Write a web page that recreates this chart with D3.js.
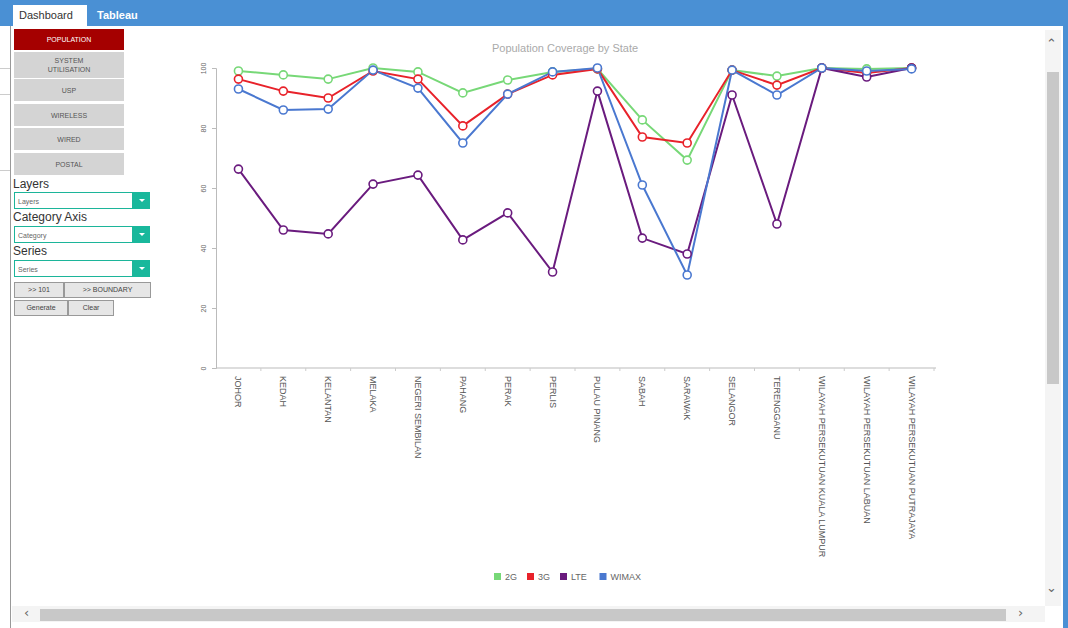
<!DOCTYPE html>
<html>
<head>
<meta charset="utf-8">
<script src="https://d3js.org/d3.v7.min.js"></script>
<style>
  body { margin: 0; width: 1068px; height: 628px; overflow: hidden; background: #fff; font-family: Arial, "Liberation Sans", sans-serif; position: relative; }
  .topbar { position: absolute; left: 0; top: 0; width: 1068px; height: 26px; background: #4a90d4; }
  .tab { position: absolute; top: 5px; height: 21px; font-size: 11px; line-height: 21px; padding: 0 6px; }
  .tab.active { left: 13px; background: #fff; color: #333; width: 62px; }
  .tab.other { left: 91px; color: #fff; font-weight: bold; }
  .frame { position: absolute; left: 10px; top: 26px; width: 1px; height: 602px; background: #999; }
  .stub { position: absolute; left: 0; width: 10px; height: 1px; background: #ccc; }
  .rightedge { position: absolute; left: 1063px; top: 0; width: 5px; height: 628px; background: #4a90d4; }
  .navbtn { position: absolute; left: 14px; width: 110px; background: #d4d4d4; color: #555; font-size: 7px; text-align: center; border-bottom: 2px solid #fff; display: flex; align-items: center; justify-content: center; line-height: 9px; }
  .navbtn.sel { background: #a50000; color: #fff; }
  .lbl { position: absolute; left: 13px; font-size: 12px; color: #333; }
  .sel-box { position: absolute; left: 14px; width: 119px; height: 17px; border: 1px solid #1cb59a; font-size: 7px; color: #666; line-height: 17px; padding-left: 3px; box-sizing: border-box; }
  .sel-btn { position: absolute; left: 133px; width: 17px; height: 17px; background: #19b89c; }
  .sel-btn::after { content: ""; position: absolute; left: 6px; top: 7px; border-left: 3px solid transparent; border-right: 3px solid transparent; border-top: 3px solid #fff; }
  .btn { position: absolute; height: 14px; background: #e6e6e6; border: 1px solid #999; font-size: 7px; color: #444; text-align: center; line-height: 14px; }
  .vscroll { position: absolute; left: 1045px; top: 30px; width: 16px; height: 576px; background: #f4f4f4; }
  .vthumb { position: absolute; left: 1047px; top: 72px; width: 12px; height: 312px; background: #c8c8c8; }
  .hscroll { position: absolute; left: 12px; top: 606px; width: 1033px; height: 16px; background: #f4f4f4; }
  .hthumb { position: absolute; left: 40px; top: 609px; width: 966px; height: 12px; background: #c8c8c8; }
  .arrow { position: absolute; color: #666; font-size: 13px; font-family: "DejaVu Sans", sans-serif; }
  svg { position: absolute; left: 0; top: 0; }
</style>
</head>
<body>
<div class="topbar"></div>
<div class="tab active">Dashboard</div>
<div class="tab other">Tableau</div>
<div class="frame"></div>
<div class="stub" style="top:68px;"></div>
<div class="stub" style="top:94px;"></div>
<div class="stub" style="top:170px;"></div>
<div class="rightedge"></div>

<div class="navbtn sel" style="top:29px;height:21px;">POPULATION</div>
<div class="navbtn" style="top:52px;height:26px;">SYSTEM<br>UTILISATION</div>
<div class="navbtn" style="top:79px;height:22px;">USP</div>
<div class="navbtn" style="top:104px;height:22px;">WIRELESS</div>
<div class="navbtn" style="top:128px;height:22px;">WIRED</div>
<div class="navbtn" style="top:153px;height:22px;">POSTAL</div>

<div class="lbl" style="top:177px;">Layers</div>
<div class="sel-box" style="top:192px;">Layers</div><div class="sel-btn" style="top:192px;"></div>
<div class="lbl" style="top:210px;">Category Axis</div>
<div class="sel-box" style="top:226px;">Category</div><div class="sel-btn" style="top:226px;"></div>
<div class="lbl" style="top:244px;">Series</div>
<div class="sel-box" style="top:260px;">Series</div><div class="sel-btn" style="top:260px;"></div>
<div class="btn" style="left:14px;top:282px;width:48px;">&gt;&gt; 101</div>
<div class="btn" style="left:64px;top:282px;width:85px;">&gt;&gt; BOUNDARY</div>
<div class="btn" style="left:14px;top:300px;width:52px;">Generate</div>
<div class="btn" style="left:68px;top:300px;width:44px;">Clear</div>

<div class="vscroll"></div><div class="vthumb"></div>
<div class="arrow" style="left:1046px;top:36px;">&#x2303;</div>
<div class="arrow" style="left:1046px;top:580px;">&#x2304;</div>
<div class="hscroll"></div><div class="hthumb"></div>
<div class="arrow" style="left:24px;top:605px;">&#x2039;</div>
<div class="arrow" style="left:1018px;top:605px;">&#x203A;</div>

<svg id="chart" width="1068" height="628"></svg>
<script>
const states = ["JOHOR", "KEDAH", "KELANTAN", "MELAKA", "NEGERI SEMBILAN", "PAHANG", "PERAK", "PERLIS",
  "PULAU PINANG", "SABAH", "SARAWAK", "SELANGOR", "TERENGGANU",
  "WILAYAH PERSEKUTUAN KUALA LUMPUR", "WILAYAH PERSEKUTUAN LABUAN", "WILAYAH PERSEKUTUAN PUTRAJAYA"];
const seriesNames = ["2G", "3G", "LTE", "WIMAX"];
const values2G = [99, 97.7, 96.3, 100, 98.7, 91.7, 96, 98.7, 99.7, 82.7, 69.3, 99.3, 97.3, 100, 99.7, 100];
const values3G = [96.3, 92.3, 90, 99, 96.3, 80.7, 91.3, 97.7, 99.7, 77, 75, 99.3, 94.3, 100, 98.3, 100];
const valuesLTE = [66.3, 46, 44.7, 61.3, 64.3, 42.7, 51.7, 32, 92.3, 43.3, 38, 91, 48, 100, 97, 100];
const valuesWIMAX = [93, 86, 86.3, 99.3, 93.3, 75, 91.3, 98.7, 100, 61, 31, 99.3, 91, 100, 99, 99.7];
const yTicks = [0, 20, 40, 60, 80, 100];
const colors = ["#77d877", "#e8222a", "#6a1b7e", "#4a78d0"];

const seriesValues = [values2G, values3G, valuesLTE, valuesWIMAX];
const svg = d3.select("#chart");

// scales
const x = d3.scaleBand().domain(states).range([216, 934]);
const y = d3.scaleLinear().domain([0, 100]).range([368, 68]);
const cx = function(d) { return x(d) + x.bandwidth() / 2; };

// title
svg.append("text").attr("x", 565).attr("y", 52).attr("text-anchor", "middle")
  .attr("font-size", 11).attr("fill", "#aaa").text("Population Coverage by State");

// y axis, labels turned on their side
const gy = svg.append("g").attr("transform", "translate(216,0)")
  .call(d3.axisLeft(y).tickValues(yTicks).tickSize(4).tickFormat(d3.format("d")));
gy.selectAll("path, line").attr("stroke", "#bbb");
gy.selectAll(".tick text").remove();
gy.selectAll(".tick").append("text")
  .attr("transform", "translate(-10,0) rotate(-90)")
  .attr("text-anchor", "middle").attr("font-size", 7).attr("fill", "#666")
  .text(function(d) { return d; });

// x axis with small ticks at band edges
const gx = svg.append("g").attr("transform", "translate(0,368)");
gx.append("line").attr("x1", 216).attr("x2", 936).attr("stroke", "#bbb");
gx.selectAll(".edge").data(states).enter().append("line")
  .attr("x1", function(d) { return x(d) + x.bandwidth(); }).attr("x2", function(d) { return x(d) + x.bandwidth(); })
  .attr("y1", 0).attr("y2", 3).attr("stroke", "#ccc");
gx.selectAll(".lab").data(states).enter().append("text")
  .attr("transform", function(d) { return "translate(" + (cx(d) - 3) + ",8) rotate(90)"; })
  .attr("font-size", 9).attr("fill", "#555").attr("text-anchor", "start").text(function(d) { return d; });

// lines and markers
const line = d3.line().x(function(d, i) { return cx(states[i]); }).y(function(d) { return y(d); });
seriesValues.forEach(function(vals, s) {
  svg.append("path").datum(vals).attr("d", line)
    .attr("fill", "none").attr("stroke", colors[s]).attr("stroke-width", 2);
});
seriesValues.forEach(function(vals, s) {
  svg.selectAll(".pt" + s).data(vals).enter().append("circle")
    .attr("cx", function(d, i) { return cx(states[i]); }).attr("cy", function(d) { return y(d); })
    .attr("r", 4).attr("fill", "#fff").attr("stroke", colors[s]).attr("stroke-width", 1.6);
});

// legend
const legend = svg.append("g").attr("transform", "translate(494,577)");
let lx = 0;
seriesNames.forEach(function(name, i) {
  legend.append("rect").attr("x", lx).attr("y", -4).attr("width", 7).attr("height", 7).attr("fill", colors[i]);
  legend.append("text").attr("x", lx + 11).attr("y", 3).attr("font-size", 9).attr("fill", "#666").text(name);
  lx += 11 + name.length * 6.5 + 9;
});
</script>
</body>
</html>
